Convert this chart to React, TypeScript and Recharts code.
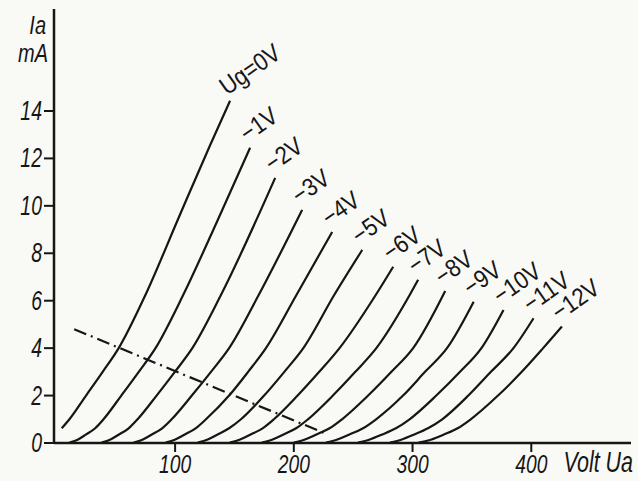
import { Line, LineChart, XAxis, YAxis } from "recharts";

// anode voltage Ua (V) / anode current Ia (mA), one list per grid voltage Ug
const ug0 = [[4.5, 0.62], [11, 1], [25, 2], [39, 3], [52.5, 4], [75, 6.24], [103, 9.5], [129, 12.5], [146.3, 14.43]];
const ug1 = [[11, 0.02], [18.3, 0.15], [24.7, 0.35], [32.7, 0.62], [39.7, 1], [54.7, 2], [69.4, 3], [83.5, 4], [106.8, 6.24], [135, 9.3], [163.2, 12.45]];
const ug2 = [[38, 0.02], [45.6, 0.15], [52.4, 0.35], [60.9, 0.62], [68.4, 1], [84.4, 2], [99.8, 3], [114.5, 4], [138.6, 6.24], [184.3, 11.18]];
const ug3 = [[65, 0.02], [72.9, 0.15], [80.1, 0.35], [89.1, 0.62], [97.1, 1], [114.1, 2], [130.2, 3], [145.5, 4], [170.4, 6.24], [207, 9.83]];
const ug4 = [[92, 0.02], [100.2, 0.15], [107.8, 0.35], [117.3, 0.62], [126, 1], [145.5, 2], [161.5, 3], [176.5, 4], [202.2, 6.24], [232.3, 8.9]];
const ug5 = [[119, 0.02], [127.5, 0.15], [135.5, 0.35], [145.5, 0.62], [155.5, 1], [175, 2], [192, 3], [208, 4], [234, 6.24], [257.6, 8.14]];
const ug6 = [[146, 0.02], [154.8, 0.15], [163.2, 0.35], [173.7, 0.62], [183.2, 1], [203.2, 2], [221.4, 3], [238.5, 4], [269, 6.24], [283.7, 7.43]];
const ug7 = [[173, 0.02], [182.1, 0.15], [190.9, 0.35], [201.9, 0.62], [211.9, 1], [232.9, 2], [251.8, 3], [269.5, 4], [297.6, 6.24], [304.7, 6.88]];
const ug8 = [[200, 0.02], [209.4, 0.15], [218.6, 0.35], [230.1, 0.62], [240.6, 1], [262.6, 2], [282.2, 3], [300.5, 4], [327.5, 6.41]];
const ug9 = [[227, 0.02], [236.7, 0.15], [246.3, 0.35], [258.3, 0.62], [269.3, 1], [292, 2], [310.5, 3], [329, 4], [351.5, 5.96]];
const ug10 = [[254, 0.02], [264, 0.15], [274, 0.35], [286, 0.62], [297.5, 1], [320, 2], [340, 3], [358, 4], [376.6, 5.61]];
const ug11 = [[281, 0.02], [291, 0.15], [301, 0.35], [313, 0.62], [325, 1], [347, 2], [366, 3], [385, 4], [401.9, 5.26]];
const ug12 = [[305, 0.02], [316, 0.15], [326, 0.35], [338, 0.62], [349, 1], [372, 2], [392, 3], [410, 4], [425.8, 4.91]];

const gridLabels = ["Ug=0V", "−1V", "−2V", "−3V", "−4V", "−5V", "−6V", "−7V", "−8V", "−9V", "−10V", "−11V", "−12V"];
const curves = [ug0, ug1, ug2, ug3, ug4, ug5, ug6, ug7, ug8, ug9, ug10, ug11, ug12];

// dash-dot working line
const loadLine = [[15, 4.8], [228, 0.37]];

const uaTicks = [100, 200, 300, 400];
const iaTicks = [0, 2, 4, 6, 8, 10, 12, 14];

const FONT = "'Liberation Sans', Arial, sans-serif";
const INK = "#161616";

const toRows = (pts: number[][]) => pts.map(([ua, ia]) => ({ ua, ia }));

// condensed lettering: normal face squeezed sideways
function Narrow({ x, y, size, sx, anchor = "start", italic = false, rotate = 0, children }: any) {
  return (
    <text
      transform={`translate(${x} ${y}) rotate(${rotate}) scale(${sx} 1)`}
      textAnchor={anchor}
      fontFamily={FONT}
      fontStyle={italic ? "italic" : "normal"}
      fontSize={size}
      fill={INK}
    >
      {children}
    </text>
  );
}

function YTick({ x, y, payload }: any) {
  return <Narrow x={x} y={y + 9} size={27} sx={0.72} anchor="end" italic>{payload.value}</Narrow>;
}

function XTick({ x, y, payload }: any) {
  return <Narrow x={x} y={y + 19} size={26} sx={0.74} anchor="middle" italic>{payload.value}</Narrow>;
}

function curveLabel(text: string, last: number) {
  return (p: any) => {
    if (p.index !== last) return <g />;
    return (
      <g transform={`translate(${p.x - 3} ${p.y - 5}) rotate(-35)`}>
        <Narrow x={0} y={0} size={25} sx={0.88}>{text}</Narrow>
      </g>
    );
  };
}

export default function App() {
  return (
    <div style={{ position: "absolute", left: 0, top: 0, width: 638, height: 481, background: "#f9f9f6" }}>
      <LineChart width={638} height={481} margin={{ top: 9, right: 7, left: 0, bottom: 0 }}>
        <XAxis
          dataKey="ua"
          type="number"
          domain={[-2, 484]}
          ticks={uaTicks}
          height={38}
          tickSize={9}
          stroke={INK}
          strokeWidth={2.5}
          tickLine={{ stroke: INK, strokeWidth: 2 }}
          tick={<XTick />}
          allowDataOverflow
        />
        <YAxis
          dataKey="ia"
          type="number"
          domain={[0, 18.3]}
          ticks={iaTicks}
          width={54}
          tickSize={10}
          stroke={INK}
          strokeWidth={2.5}
          tickLine={{ stroke: INK, strokeWidth: 2 }}
          tick={<YTick />}
          allowDataOverflow
        />
        {curves.map((pts, i) => (
          <Line
            key={gridLabels[i]}
            data={toRows(pts)}
            dataKey="ia"
            type="monotone"
            stroke={INK}
            strokeWidth={2.2}
            dot={false}
            isAnimationActive={false}
            label={curveLabel(gridLabels[i], pts.length - 1)}
          />
        ))}
        <Line
          data={toRows(loadLine)}
          dataKey="ia"
          type="linear"
          stroke={INK}
          strokeWidth={2.2}
          strokeDasharray="13 5 2 5"
          dot={false}
          isAnimationActive={false}
        />
      </LineChart>
      <svg width={638} height={481} style={{ position: "absolute", left: 0, top: 0, pointerEvents: "none" }}>
        <Narrow x={46} y={34} size={25} sx={0.8} anchor="end" italic>Ia</Narrow>
        <Narrow x={48} y={62} size={25} sx={0.8} anchor="end" italic>mA</Narrow>
        <Narrow x={633} y={472} size={29} sx={0.74} anchor="end" italic>Volt Ua</Narrow>
      </svg>
    </div>
  );
}
